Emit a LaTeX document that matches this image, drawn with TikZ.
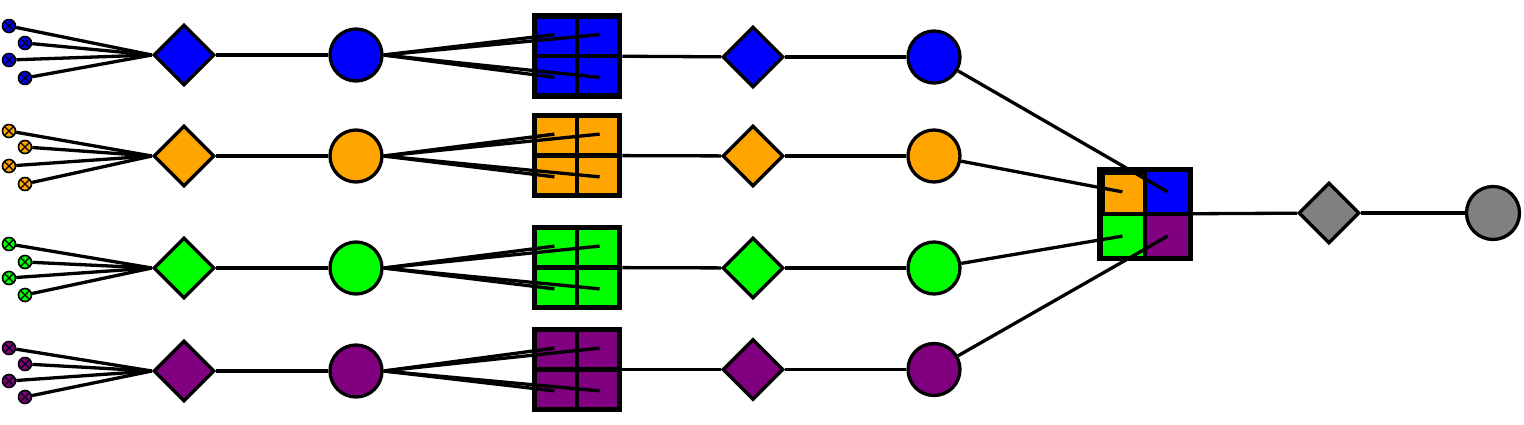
\documentclass[tikz,border=0pt]{standalone}
\usetikzlibrary{shapes.geometric,calc}
\definecolor{cblue}{HTML}{0000FF}
\definecolor{corange}{HTML}{FFA500}
\definecolor{cgreen}{HTML}{00FF00}
\definecolor{cpurple}{HTML}{800080}
\definecolor{cgray}{HTML}{808080}
\begin{document}
\begin{tikzpicture}[x=1pt,y=-1pt,
  conn/.style={line width=3.3pt},
  src/.style={circle,draw,line width=1.6pt,inner sep=0pt,minimum size=13pt,
    path picture={\draw[line width=1.4pt] (path picture bounding box.north west)--(path picture bounding box.south east)
      (path picture bounding box.north east)--(path picture bounding box.south west);}},
  dia/.style={diamond,draw,line width=3.3pt,inner sep=0pt,minimum size=61pt},
  circ/.style={circle,draw,line width=3.3pt,inner sep=0pt,minimum size=52pt},
  blk/.style={rectangle,draw,line width=5.5pt,inner sep=0pt,minimum width=85pt,minimum height=80pt},
  grid/.style={line width=4.5pt}]
\useasboundingbox (0,0) rectangle (1524,425);
% rows
\foreach \i/\col/\y/\ya/\yb/\yc/\yd/\bl/\dy in {1/cblue/55/26/43/60/78/56/57, 2/corange/156/131/147/166/184/155.5/156, 3/cgreen/268/244/262/278/295/267.5/268, 4/cpurple/371/348/364/381/397/369.5/369.5}{
  \node[src,fill=\col] (s\i a) at (9,\ya) {};
  \node[src,fill=\col] (s\i b) at (25,\yb) {};
  \node[src,fill=\col] (s\i c) at (9,\yc) {};
  \node[src,fill=\col] (s\i d) at (25,\yd) {};
  \node[dia,fill=\col] (d\i) at (184,\y) {};
  \node[circ,fill=\col] (c\i) at (356,\y) {};
  \node[blk,fill=\col] (b\i) at (577,\bl) {};
  \draw[grid] (b\i.north) -- (b\i.south) (b\i.west) -- (b\i.east);
  \coordinate (b\i tl) at ($(b\i.center)!0.5!(b\i.north west)$);
  \coordinate (b\i tr) at ($(b\i.center)!0.5!(b\i.north east)$);
  \coordinate (b\i bl) at ($(b\i.center)!0.5!(b\i.south west)$);
  \coordinate (b\i br) at ($(b\i.center)!0.5!(b\i.south east)$);
  \node[dia,fill=\col] (e\i) at (753,\dy) {};
  \node[circ,fill=\col] (f\i) at (934,\dy) {};
  \foreach \k in {a,b,c,d}{\draw[conn] (s\i\k) -- (d\i.west);}
  \draw[conn] (d\i) -- (c\i);
  \foreach \k in {tl,tr,bl,br}{\draw[conn] (c\i.east) -- (b\i\k);}
  \draw[conn] (b\i) -- (e\i);
  \draw[conn] (e\i) -- (f\i);
}
% merge block
\node[blk,minimum height=83pt,fill=corange] (m) at (1145,214) {};
\fill[cblue] ($(m.center)+(0,-42)$) rectangle ($(m.center)+(43,0)$);
\fill[cgreen] ($(m.center)+(-43,0)$) rectangle ($(m.center)+(0,42)$);
\fill[cpurple] ($(m.center)$) rectangle ($(m.center)+(43,42)$);
\draw[line width=5.5pt] (m.north west) rectangle (m.south east);
\draw[grid] (m.north) -- (m.south) (m.west) -- (m.east);
\coordinate (mtl) at ($(m.center)!0.5!(m.north west)$);
\coordinate (mtr) at ($(m.center)!0.5!(m.north east)$);
\coordinate (mbl) at ($(m.center)!0.5!(m.south west)$);
\coordinate (mbr) at ($(m.center)!0.5!(m.south east)$);
\node[dia,fill=cgray] (g1) at (1329,213) {};
\node[circ,fill=cgray,minimum size=53pt] (g2) at (1493,213) {};
\draw[conn] (f1) -- (mtr);
\draw[conn] (f2) -- (mtl);
\draw[conn] (f3) -- (mbl);
\draw[conn] (f4) -- (mbr);
\draw[conn] (m) -- (g1);
\draw[conn] (g1) -- (g2);
\end{tikzpicture}
\end{document}
